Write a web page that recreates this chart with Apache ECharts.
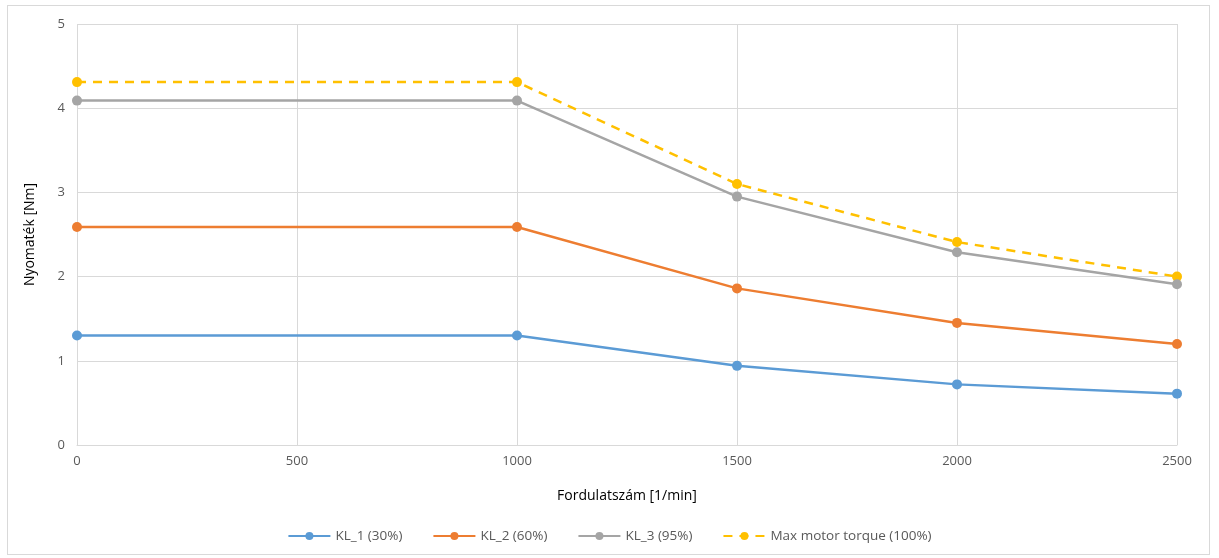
<!DOCTYPE html>
<html><head><meta charset="utf-8">
<script src="https://cdn.jsdelivr.net/npm/echarts@6/dist/echarts.min.js"></script>
<style>
html,body{margin:0;padding:0;background:#fff;}
#frame{position:absolute;left:7px;top:5px;width:1203px;height:550px;border:1.5px solid #d9d9d9;box-sizing:border-box;}
#c{position:absolute;left:0;top:0;width:1219px;height:558px;}
</style></head>
<body>
<div id="frame"></div>
<div id="c"></div>
<script>
const speeds = [0, 1000, 1500, 2000, 2500];
const kl1 = [1.3, 1.3, 0.94, 0.72, 0.61];
const kl2 = [2.59, 2.59, 1.86, 1.45, 1.2];
const kl3 = [4.09, 4.09, 2.95, 2.29, 1.91];
const maxTorque = [4.31, 4.31, 3.1, 2.41, 2.0];
const seriesNames = ['KL_1 (30%)', 'KL_2 (60%)', 'KL_3 (95%)', 'Max motor torque (100%)'];
const colors = ['#5B9BD5', '#ED7D31', '#A5A5A5', '#FFC000'];

const toPairs = arr => speeds.map((s, i) => [s, arr[i]]);
const allData = [kl1, kl2, kl3, maxTorque];
const fontFam = '"Open Sans", "Liberation Sans", sans-serif';

const chart = echarts.init(document.getElementById('c'));
chart.setOption({
  animation: false,
  textStyle: {fontFamily: fontFam},
  grid: {left: 77, right: 42, top: 24, bottom: 113},
  xAxis: {
    type: 'value', min: 0, max: 2500, interval: 500,
    name: 'Fordulatszám [1/min]', nameLocation: 'middle', nameGap: 44,
    nameTextStyle: {fontSize: 14, color: '#000', fontFamily: fontFam},
    axisLine: {show: true, lineStyle: {color: '#d9d9d9', width: 1}},
    axisTick: {show: false},
    axisLabel: {color: '#595959', fontSize: 13, margin: 10, formatter: v => String(v)},
    splitLine: {show: true, lineStyle: {color: '#d9d9d9', width: 1}}
  },
  yAxis: {
    type: 'value', min: 0, max: 5, interval: 1,
    name: 'Nyomaték [Nm]', nameLocation: 'middle', nameGap: 40, nameRotate: 90,
    nameTextStyle: {fontSize: 14, color: '#000', fontFamily: fontFam},
    axisLine: {show: false},
    axisTick: {show: false},
    axisLabel: {color: '#595959', fontSize: 13, margin: 12},
    splitLine: {show: true, lineStyle: {color: '#d9d9d9', width: 1}}
  },
  legend: {
    bottom: 10, left: 'center',
    itemWidth: 42, itemHeight: 10, itemGap: 30,
    textStyle: {color: '#595959', fontSize: 13.5},
    data: seriesNames
  },
  series: allData.map((d, i) => ({
    name: seriesNames[i], type: 'line', data: toPairs(d),
    symbol: 'circle', symbolSize: 10,
    color: colors[i],
    lineStyle: {width: 2.5, color: colors[i], type: i === 3 ? [9, 7] : 'solid'},
    itemStyle: {color: colors[i]},
    z: 10 - i
  }))
});
</script>
</body></html>
